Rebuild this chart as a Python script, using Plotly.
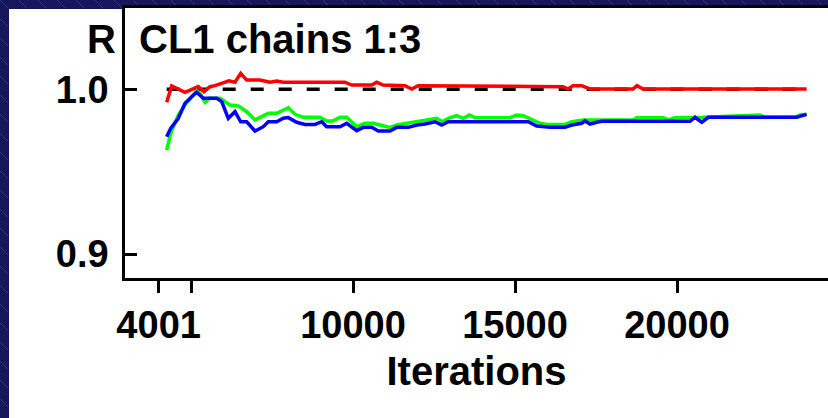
import plotly.graph_objects as go

# ---------------- data ----------------
red_x = [4250, 4404, 4815, 5225, 5401, 5586, 5741, 6173, 6358, 6534, 6719, 7130, 7438, 7645, 7849,
         9753, 9960, 10577, 10731, 10926, 11605, 11812, 12006, 16481, 16636, 16790, 17059, 17315,
         18642, 18765, 18951, 24000]
red_y = [0.9921, 1.0020, 0.9982, 1.0016, 0.9985, 1.0016, 1.0022, 1.0052, 1.0043, 1.0097, 1.0056, 1.0056,
         1.0043, 1.0050, 1.0043, 1.0043, 1.0026, 1.0026, 1.0043, 1.0026, 1.0022, 1.0002, 1.0022, 1.0016,
         1.0002, 1.0022, 1.0022, 1.0002, 1.0002, 1.0022, 1.0002, 1.0002]

green_x = [4250, 4373, 4608, 4815, 5022, 5176, 5278, 5432, 5565, 5895, 6204, 6460, 6719, 6975, 7182,
           7386, 7645, 7849, 8003, 8210, 8466, 8981, 9188, 9383, 9599, 9806, 10114, 10370, 10627,
           10833, 11142, 11349, 11861, 12222, 12429, 12583, 12756, 12941, 13201, 13404, 13590, 13765,
           14846, 15052, 15256, 15565, 15772, 15978, 16543, 16750, 17108, 18651, 18756, 19577, 19731,
           19938, 20802, 22562, 22716, 23642, 23796, 24000]
green_y = [0.9631, 0.9733, 0.9844, 0.9905, 0.9955, 0.9990, 0.9976, 0.9921, 0.9945, 0.9945, 0.9905,
           0.9899, 0.9864, 0.9814, 0.9834, 0.9854, 0.9854, 0.9874, 0.9888, 0.9848, 0.9830, 0.9830,
           0.9808, 0.9808, 0.9830, 0.9830, 0.9773, 0.9794, 0.9794, 0.9783, 0.9769, 0.9783, 0.9800,
           0.9814, 0.9824, 0.9824, 0.9803, 0.9824, 0.9840, 0.9824, 0.9844, 0.9828, 0.9828, 0.9844,
           0.9840, 0.9814, 0.9794, 0.9787, 0.9787, 0.9803, 0.9814, 0.9814, 0.9828, 0.9828, 0.9814,
           0.9828, 0.9830, 0.9844, 0.9830, 0.9830, 0.9844, 0.9848]

blue_x = [4250, 4373, 4608, 4815, 5022, 5176, 5380, 5793, 5948, 6151, 6358, 6534, 6719, 6975, 7231,
          7386, 7645, 7849, 8003, 8262, 8518, 8827, 9034, 9188, 9599, 9806, 10114, 10318, 10577,
          10781, 11142, 11349, 11707, 11966, 12222, 12531, 12738, 12941, 15411, 15669, 16080, 16543,
          16750, 17059, 17160, 17315, 17521, 17676, 20401, 20555, 20762, 20966, 23694, 24000]
blue_y = [0.9712, 0.9763, 0.9824, 0.9915, 0.9955, 0.9982, 0.9945, 0.9945, 0.9925, 0.9824, 0.9864,
          0.9803, 0.9803, 0.9747, 0.9773, 0.9803, 0.9803, 0.9824, 0.9828, 0.9800, 0.9787, 0.9787,
          0.9803, 0.9773, 0.9773, 0.9794, 0.9749, 0.9769, 0.9769, 0.9747, 0.9747, 0.9769, 0.9769,
          0.9783, 0.9789, 0.9803, 0.9783, 0.9803, 0.9803, 0.9777, 0.9769, 0.9769, 0.9783, 0.9794,
          0.9808, 0.9789, 0.9800, 0.9806, 0.9806, 0.9830, 0.9800, 0.9830, 0.9830, 0.9848]

ref_x = [4250, 24000]
ref_y = [1.0, 1.0]

x_tickvals = [4001, 5000, 10000, 15000, 20000]
x_ticktext = ["4001", "", "10000", "15000", "20000"]
y_tickvals = [0.9, 1.0]
y_ticktext = ["0.9", "1.0"]

title_text = "CL1 chains 1:3"
ylabel_text = "R"
xlabel_text = "Iterations"

# ---------------- figure ----------------
W, H = 828, 418
ML, MR, MT, MB = 125, 0, 8, 140
PW, PH = W - ML - MR, H - MT - MB

def px_x(p):
    return (p - ML) / PW

def px_y(p):
    return (H - MB - p) / PH

FONT = "Liberation Sans, Arial, sans-serif"
NAVY = "#16165a"

fig = go.Figure()
fig.add_trace(go.Scatter(x=ref_x, y=ref_y, mode="lines",
                         line=dict(color="black", width=3.5, dash="13px,15px"), hoverinfo="skip"))
fig.add_trace(go.Scatter(x=red_x, y=red_y, mode="lines", line=dict(color="#ff0000", width=3.5)))
fig.add_trace(go.Scatter(x=green_x, y=green_y, mode="lines", line=dict(color="#00ff00", width=3.5)))
fig.add_trace(go.Scatter(x=blue_x, y=blue_y, mode="lines", line=dict(color="#0000ff", width=3.5)))

shapes = []
# subtle diagonal hatch in navy frame
for k in range(-2, 46):
    x0 = k * 19
    shapes.append(dict(type="line", xref="paper", yref="paper",
                       x0=px_x(x0), y0=px_y(0), x1=px_x(x0 + 8), y1=px_y(8),
                       line=dict(color="#34347e", width=1), layer="below"))
for k in range(0, 23):
    y0 = k * 19
    shapes.append(dict(type="line", xref="paper", yref="paper",
                       x0=px_x(0), y0=px_y(y0), x1=px_x(8), y1=px_y(y0 + 8),
                       line=dict(color="#34347e", width=1), layer="below"))
shapes.append(dict(type="rect", xref="paper", yref="paper",
                   x0=px_x(9), x1=px_x(W + 5), y0=px_y(H + 5), y1=px_y(9),
                   fillcolor="white", line=dict(width=0), layer="below"))

fig.update_layout(
    width=W, height=H,
    margin=dict(l=ML, r=MR, t=MT, b=MB),
    paper_bgcolor=NAVY, plot_bgcolor="white",
    showlegend=False,
    shapes=shapes,
    xaxis=dict(range=[2963, 24660], tickvals=x_tickvals, ticktext=x_ticktext,
               ticks="outside", ticklen=12, tickwidth=2.5, tickcolor="black",
               showline=True, linewidth=2.5, linecolor="black", mirror=True,
               showgrid=False, zeroline=False,
               tickfont=dict(family=FONT, size=38, color="black", weight="bold"),
               title=dict(text=xlabel_text, standoff=12,
                          font=dict(family=FONT, size=40, color="black", weight="bold"))),
    yaxis=dict(range=[0.88543, 1.04936], tickvals=y_tickvals, ticktext=y_ticktext,
               ticks="inside", ticklen=12, tickwidth=2.5, tickcolor="black",
               showline=True, linewidth=2.5, linecolor="black",
               showgrid=False, zeroline=False, ticklabelstandoff=6,
               tickfont=dict(family=FONT, size=38, color="black", weight="bold")),
    annotations=[
        dict(text=ylabel_text, xref="paper", yref="paper", x=px_x(118), y=px_y(39),
             xanchor="right", yanchor="middle", showarrow=False,
             font=dict(family=FONT, size=40, color="black", weight="bold")),
        dict(text=title_text, xref="paper", yref="paper", x=px_x(137), y=px_y(39),
             xanchor="left", yanchor="middle", showarrow=False,
             font=dict(family=FONT, size=40, color="black", weight="bold")),
    ],
)

fig.write_html("out.html")
